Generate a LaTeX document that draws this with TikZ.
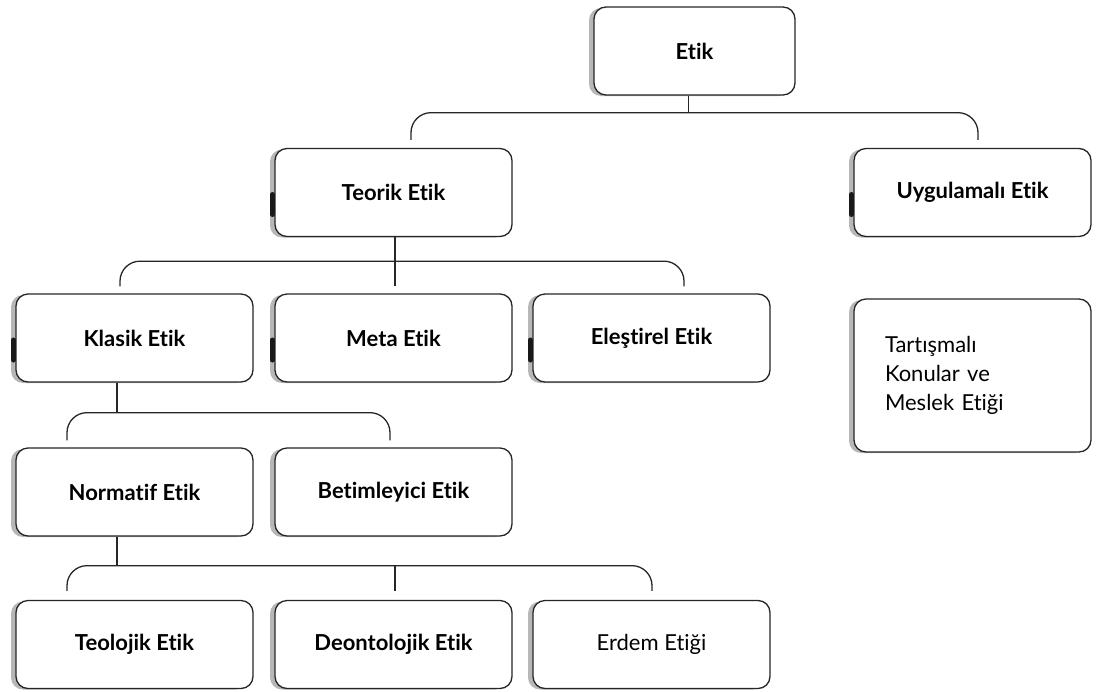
\documentclass[tikz,border=0pt]{standalone}
\usepackage{fontspec}
\setmainfont{Lato}[Ligatures={NoCommon,NoContextual}]
\usetikzlibrary{shadows}
\begin{document}
\begin{tikzpicture}[x=1pt, y=-1pt,
    kutu/.style={draw=black!85, line width=1.3pt, rounded corners=12pt, fill=white,
      minimum width=237pt, minimum height=88pt, inner sep=4pt,
      font=\fontsize{22}{26}\selectfont\bfseries,
      drop shadow={shadow xshift=-5pt, shadow yshift=-1pt, fill=black!40, opacity=0.7}},
    dal/.style={draw=black!85, line width=1.3pt, rounded corners=20pt},
    isaret/.style={line width=5pt, line cap=round, black!90}]
  \useasboundingbox (0,0) rectangle (1097,691);
  \node[kutu, minimum width=201pt] (etik) at (694.5,51) {Etik};
  \node[kutu] (teorik) at (393.5,192.5) {Teorik Etik};
  \node[kutu] (uygulama) at (972.5,192.5) {Uygulamalı Etik};
  \node[kutu] (klasik) at (134.5,338) {Klasik Etik};
  \node[kutu] (meta) at (393.5,338) {Meta Etik};
  \node[kutu] (elestirel) at (651.5,338) {Eleştirel Etik};
  \node[kutu, minimum height=153pt, text width=175pt, align=left,
    font=\fontsize{22}{29}\selectfont] (tartisma) at (972.5,375.5) {Tartışmalı\\Konular ve\\Meslek Etiği};
  \node[kutu] (normatif) at (134.5,492) {Normatif Etik};
  \node[kutu] (betim) at (393.5,492) {Betimleyici Etik};
  \node[kutu] (teolojik) at (134.5,644.5) {Teolojik Etik};
  \node[kutu] (deonto) at (393.5,644.5) {Deontolojik Etik};
  \node[kutu, font=\fontsize{22}{26}\selectfont] (erdem) at (651.5,644.5) {Erdem Etiği};
  \foreach \n in {teorik,uygulama,klasik,meta,elestirel}
    \draw[isaret] ([xshift=-2pt,yshift=-2pt]\n.west) -- ++(0,20);
  % Etik
  \draw[dal] ([xshift=-6pt]etik.south) -- ++(0,17) coordinate (e1);
  \draw[dal] ([xshift=17.5pt,yshift=8pt]teorik.north) |- (e1) -| ([xshift=5.5pt,yshift=8pt]uygulama.north);
  % Teorik Etik
  \draw[dal] ([xshift=1.5pt]teorik.south) -- ([xshift=1.5pt,yshift=7pt]meta.north);
  \draw[dal] ([xshift=-14.5pt,yshift=7pt]klasik.north) |- ([xshift=1.5pt,yshift=-24pt]teorik.south) -| ([xshift=32.5pt,yshift=7pt]elestirel.north);
  % Klasik Etik
  \draw[dal] ([xshift=-17.5pt]klasik.south) -- ++(0,30) coordinate (k1);
  \draw[dal] ([xshift=-67.5pt,yshift=7pt]normatif.north) |- (k1) -| ([xshift=-3.5pt,yshift=7pt]betim.north);
  % Normatif Etik
  \draw[dal] ([xshift=-17.5pt]normatif.south) -- ++(0,29) coordinate (n1);
  \draw[dal] ([xshift=-67.5pt,yshift=9pt]teolojik.north) |- (n1) -| ([xshift=0.5pt,yshift=9pt]erdem.north);
  \draw[dal] ([xshift=1.5pt]deonto.north |- n1) -- ([xshift=1.5pt,yshift=9pt]deonto.north);
\end{tikzpicture}
\end{document}
